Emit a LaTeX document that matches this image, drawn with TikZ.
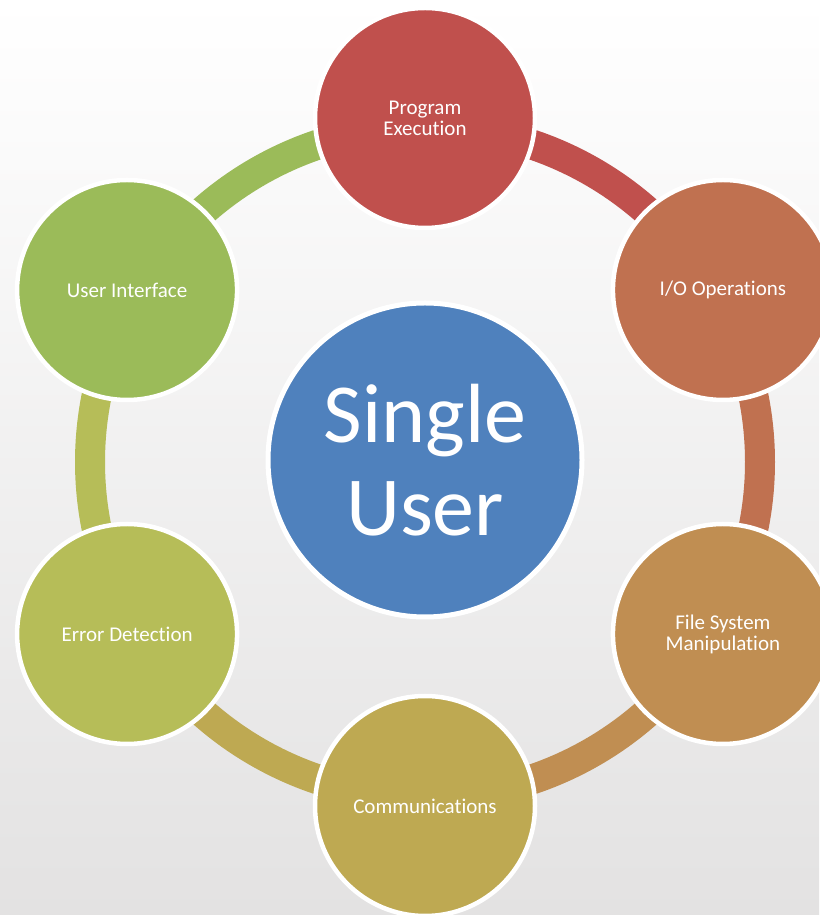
\documentclass[tikz,border=0pt]{standalone}
\usepackage{fontspec}
\setmainfont{Carlito}[Ligatures={NoCommon}]
\usetikzlibrary{calc}
\definecolor{cA}{RGB}{192,80,77}
\definecolor{cB}{RGB}{192,113,80}
\definecolor{cC}{RGB}{192,142,82}
\definecolor{cD}{RGB}{190,169,82}
\definecolor{cE}{RGB}{182,189,88}
\definecolor{cF}{RGB}{155,187,89}
\definecolor{hubc}{RGB}{79,129,189}
\definecolor{bgbot}{RGB}{227,226,226}
\begin{document}
\begin{tikzpicture}[x=1pt,y=1pt,
  sat/.style={circle, draw=white, line width=4.5pt, minimum size=220pt, inner sep=0pt,
    text=white, align=center, font=\fontsize{21}{21}\selectfont},
  hub/.style={circle, draw=white, line width=5pt, minimum size=314pt, inner sep=0pt,
    fill=hubc, text=white, align=center, font=\fontsize{84}{93}\selectfont},
  ringseg/.style={line width=30pt}]
\shade[top color=white, bottom color=bgbot] (0,0) rectangle (819,915);
\useasboundingbox (0,0) rectangle (819,915);
\coordinate (o) at (425,453);
% ring segments
\draw[ringseg, cA] ($(o)+(90:335)$) arc[start angle=90, end angle=30, radius=335];
\draw[ringseg, cB] ($(o)+(30:335)$) arc[start angle=30, end angle=-30, radius=335];
\draw[ringseg, cC] ($(o)+(-30:335)$) arc[start angle=-30, end angle=-90, radius=335];
\draw[ringseg, cD] ($(o)+(-90:335)$) arc[start angle=-90, end angle=-150, radius=335];
\draw[ringseg, cE] ($(o)+(210:335)$) arc[start angle=210, end angle=150, radius=335];
\draw[ringseg, cF] ($(o)+(150:335)$) arc[start angle=150, end angle=90, radius=335];
% hub
\node[hub] (hub) at ($(o)+(0,2)$) {Single\\User};
% satellites
\node[sat, fill=cA] (pe) at ($(o)+(90:344)$) {Program\\Execution};
\node[sat, fill=cB] (io) at ($(o)+(30:344)$) {I/O Operations};
\node[sat, fill=cC] (fs) at ($(o)+(-30:344)$) {File System\\Manipulation};
\node[sat, fill=cD] (cm) at ($(o)+(-90:344)$) {Communications};
\node[sat, fill=cE] (ed) at ($(o)+(210:344)$) {Error Detection};
\node[sat, fill=cF] (ui) at ($(o)+(150:344)$) {User Interface};
\end{tikzpicture}
\end{document}
